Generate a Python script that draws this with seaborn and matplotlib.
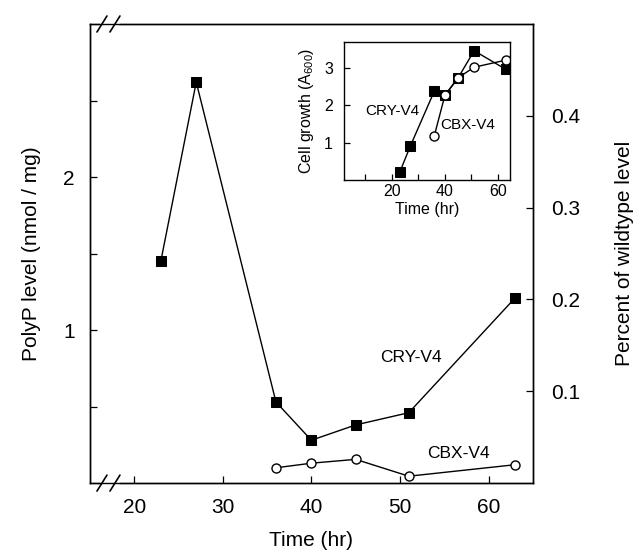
import matplotlib
matplotlib.use("Agg")
import matplotlib.pyplot as plt
import seaborn as sns

# main panel: PolyP level over time
time_cry = [23, 27, 36, 40, 45, 51, 63]
polyp_cry = [1.45, 2.62, 0.53, 0.28, 0.38, 0.46, 1.21]
time_cbx = [36, 40, 45, 51, 63]
polyp_cbx = [0.10, 0.13, 0.155, 0.045, 0.12]

# inset: cell growth (A600)
growth_cry = [0.21, 0.91, 2.37, 2.26, 2.73, 3.45, 2.95]
growth_cbx = [1.18, 2.26, 2.73, 3.01, 3.20]

main_xticks = [20, 30, 40, 50, 60]
left_yticks = [1, 2]
right_yticks = [0.1, 0.2, 0.3, 0.4]
inset_xticks = [20, 40, 60]
inset_yticks = [1, 2, 3]

sns.set_style("ticks")
plt.rcParams["font.family"] = ["Liberation Sans", "DejaVu Sans"]
plt.rcParams["mathtext.fontset"] = "custom"
plt.rcParams["mathtext.rm"] = "Liberation Sans"
plt.rcParams["text.color"] = "black"
plt.rcParams["axes.labelcolor"] = "black"
plt.rcParams["xtick.color"] = "black"
plt.rcParams["ytick.color"] = "black"
plt.rcParams["axes.edgecolor"] = "black"

fig = plt.figure(figsize=(6.39, 5.54), dpi=100)
ax = fig.add_axes([0.1408, 0.128, 0.693, 0.8287])

sq = dict(marker="s", markersize=7, markerfacecolor="black", markeredgecolor="black",
          color="black", linewidth=1.0)
circ = dict(marker="o", markersize=6.5, markerfacecolor="white", markeredgecolor="black",
            markeredgewidth=1.0, color="black", linewidth=1.0)

sns.lineplot(x=time_cry, y=polyp_cry, ax=ax, **sq)
sns.lineplot(x=time_cbx, y=polyp_cbx, ax=ax, **circ)

ax.set_xlim(15, 65)
ax.set_ylim(0, 3.0)
ax.set_xticks(main_xticks)
ax.set_yticks(left_yticks)
ax.set_yticks([0.5, 1.5, 2.5], minor=True)
ax.tick_params(direction="in", labelsize=15, length=5, width=0.9, pad=11)
ax.tick_params(axis="y", which="minor", direction="in", length=5, width=0.9)
ax.set_xlabel("Time (hr)", fontsize=15, labelpad=10)
ax.set_ylabel("PolyP level (nmol / mg)", fontsize=15, labelpad=16)
for s in ax.spines.values():
    s.set_linewidth(1.0)

ax.text(47.8, 0.82, "CRY-V4", fontsize=12.5, va="center")
ax.text(53.1, 0.196, "CBX-V4", fontsize=12.5, va="center")

ax2 = ax.twinx()
ax2.set_ylim(0, 0.5)
ax2.set_yticks(right_yticks)
ax2.set_yticklabels([f"{v:.1f}" for v in right_yticks])
ax2.tick_params(direction="in", labelsize=15, length=5, width=0.9, pad=13)
ax2.set_ylabel("Percent of wildtype level", fontsize=15, rotation=90, labelpad=25)
for s in ax2.spines.values():
    s.set_linewidth(1.0)

# axis break marks
W, H = 443.0, 459.0
for yb in (1.0, 0.0):
    ax.plot([12 / W, 28 / W], [yb, yb], transform=ax.transAxes, color="white",
            linewidth=3, clip_on=False, zorder=5)
    for xc in (12 / W, 25 / W):
        ax.plot([xc - 5 / W, xc + 5 / W], [yb - 8 / H, yb + 8 / H], transform=ax.transAxes,
                color="black", linewidth=1.2, clip_on=False, zorder=6)

# inset
ins = fig.add_axes([0.5383, 0.675, 0.2598, 0.249])
sns.lineplot(x=time_cry, y=growth_cry, ax=ins, marker="s", markersize=6.5,
             markerfacecolor="black", markeredgecolor="black", color="black", linewidth=1.0)
sns.lineplot(x=time_cbx, y=growth_cbx, ax=ins, marker="o", markersize=6.5,
             markerfacecolor="white", markeredgecolor="black", markeredgewidth=1.0,
             color="black", linewidth=1.0)
ins.set_xlim(2, 64.5)
ins.set_ylim(0, 3.68)
ins.set_xticks(inset_xticks)
ins.set_xticks([10, 30, 50], minor=True)
ins.set_yticks(inset_yticks)
ins.tick_params(direction="in", labelsize=11.5, length=4, width=0.9)
ins.tick_params(axis="x", which="minor", direction="in", length=4, width=0.9)
ins.tick_params(axis="x", pad=3)
ins.tick_params(axis="y", pad=8)
ins.set_xlabel("Time (hr)", fontsize=11.5, labelpad=2)
ins.set_ylabel("Cell growth (A$_{600}$)", fontsize=11.5, labelpad=6)
for s in ins.spines.values():
    s.set_linewidth(1.0)
ins.text(9.9, 1.84, "CRY-V4", fontsize=11, va="center")
ins.text(38.1, 1.47, "CBX-V4", fontsize=11, va="center")

fig.savefig("out.png", dpi=100)
